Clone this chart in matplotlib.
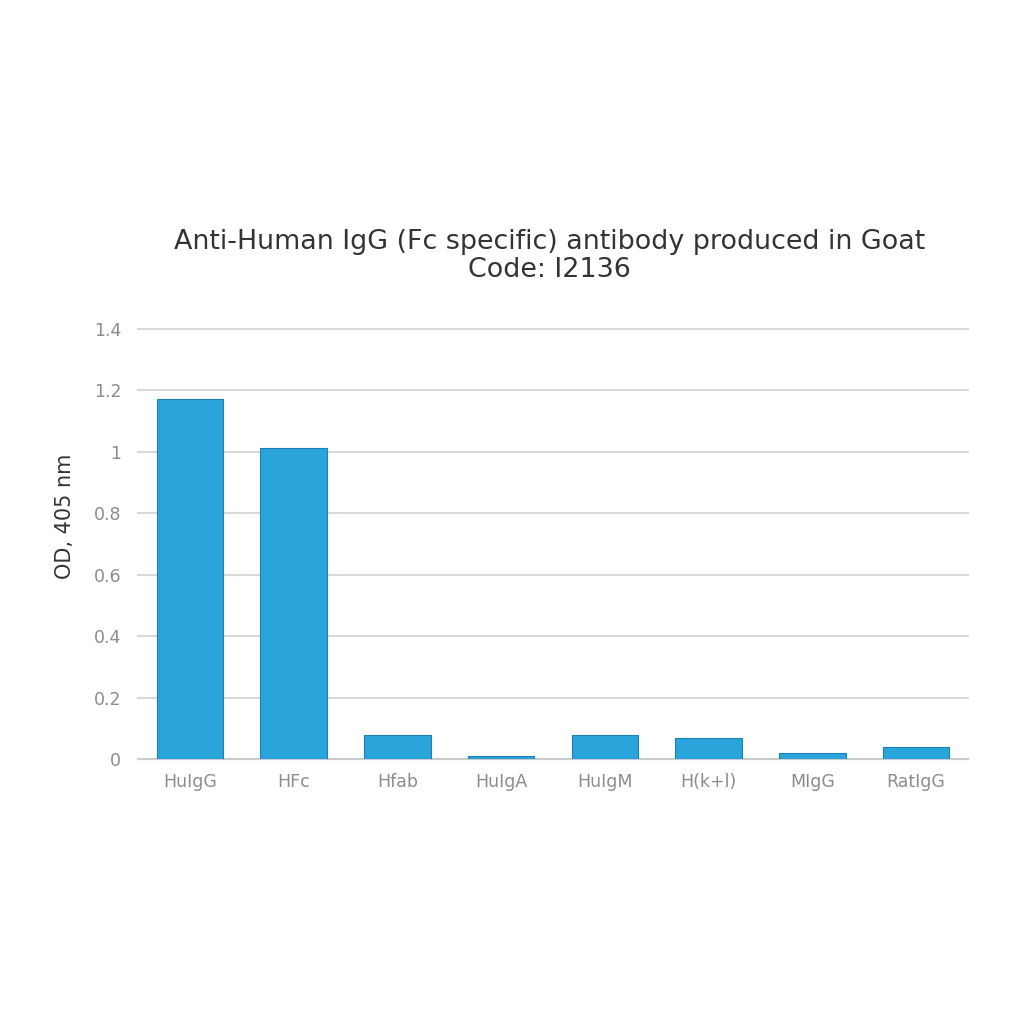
import matplotlib
matplotlib.use("Agg")
import matplotlib.pyplot as plt

categories = ["HuIgG", "HFc", "Hfab", "HuIgA", "HuIgM", "H(k+l)", "MIgG", "RatIgG"]
values = [1.172, 1.013, 0.078, 0.010, 0.078, 0.068, 0.020, 0.039]
yticks = [0, 0.2, 0.4, 0.6, 0.8, 1.0, 1.2, 1.4]
ytick_labels = ["0", "0.2", "0.4", "0.6", "0.8", "1", "1.2", "1.4"]

fig = plt.figure(figsize=(10.24, 10.24), dpi=100)
ax = fig.add_axes([0.1348, 0.2588, 0.8105, 0.4199])

x = list(range(len(categories)))
ax.bar(x, values, width=0.64, color="#29a5dc", edgecolor="#1e7fb0", linewidth=0.8, zorder=3)

ax.set_xlim(-0.5, len(categories) - 0.5)
ax.set_ylim(0, 1.4)
ax.set_yticks(yticks)
ax.set_yticklabels(ytick_labels)
ax.set_xticks(x)
ax.set_xticklabels(categories)
ax.yaxis.grid(True, color="#d9d9d9", linewidth=1.5, zorder=0)
for gl in ax.get_ygridlines():
    gl.set_clip_on(False)
ax.set_axisbelow(True)
for s in ["top", "right", "left"]:
    ax.spines[s].set_visible(False)
ax.spines["bottom"].set_color("#cccccc")
ax.spines["bottom"].set_linewidth(1.5)
ax.tick_params(axis="both", length=0, colors="#8c8c8c", labelsize=12.5)
ax.tick_params(axis="y", pad=12)
ax.tick_params(axis="x", pad=10)

ax.set_ylabel("OD, 405 nm", fontsize=15, color="#333333")
ax.yaxis.set_label_coords(-0.076, 0.565)
fig.text(0.537, 0.75, "Anti-Human IgG (Fc specific) antibody produced in Goat\nCode: I2136",
         ha="center", va="center", fontsize=19.4, color="#333333", linespacing=1.1)

fig.savefig("out.png", dpi=100, facecolor="white")
